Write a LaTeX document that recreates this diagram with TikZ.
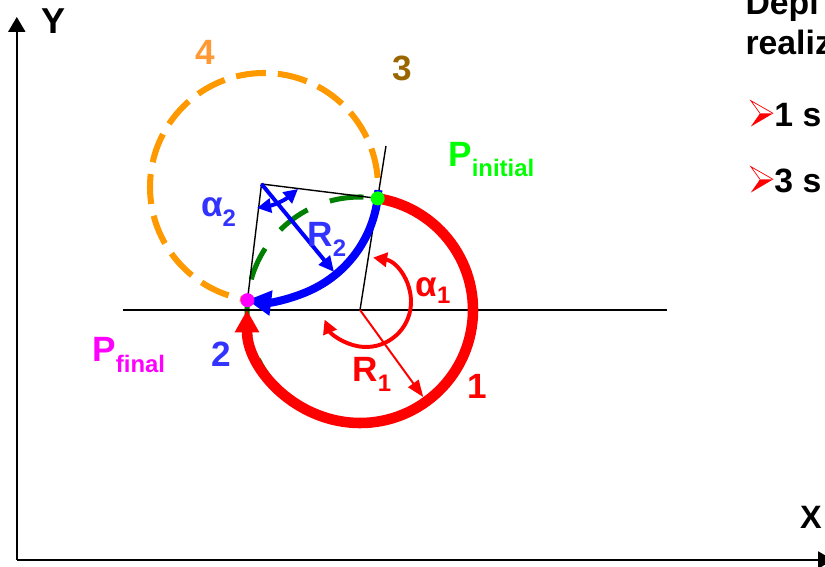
\documentclass[tikz,border=0pt]{standalone}
\usepackage{fontspec}
\setmainfont{Liberation Sans}
\usetikzlibrary{arrows.meta,calc}
\definecolor{PlanInk}{gray}{0}
\definecolor{PlanRed}{RGB}{255,0,0}
\definecolor{PlanBlue}{RGB}{0,0,255}
\definecolor{PlanBlueText}{RGB}{51,51,255}
\definecolor{PlanGreen}{RGB}{0,128,0}
\definecolor{PlanLime}{RGB}{0,255,0}
\definecolor{PlanOrange}{RGB}{255,153,0}
\definecolor{PlanOrangeText}{RGB}{255,153,51}
\definecolor{PlanBrown}{RGB}{153,102,0}
\definecolor{PlanMagenta}{RGB}{255,0,255}
\newcommand\planmain{\fontsize{25}{28}\selectfont\bfseries}
\newcommand\plansub{\fontsize{17}{19}\selectfont\bfseries}
\newcommand\plantext{\fontsize{24}{27}\selectfont\bfseries}
\newcommand\withsub[3][7pt]{#2\raisebox{-#1}{\plansub #3}}
\tikzset{
    plan/diagram/.style={
        font=\planmain,
        draw=PlanInk,
        text=PlanInk,
        line width=1pt,
        line cap=butt,
        every node/.style={inner sep=0pt, outer sep=0pt}
    },
    plan/axis/.style={
        draw=PlanInk, line width=1.4pt,
        -{Triangle[length=10.5pt, width=12pt]}
    },
    plan/guide/.style={draw=PlanInk, line width=1pt},
    plan/baseline/.style={draw=PlanInk, line width=1.4pt},
    plan/circle1/.style={
        draw=PlanGreen, line width=3.6pt,
        dash pattern=on 0.85cm off 0.6cm
    },
    plan/circle2/.style={
        draw=PlanOrange, line width=4.3pt,
        dash pattern=on 0.75cm off 0.3cm, dash phase=0.82cm
    },
    plan/move1/.style={
        draw=PlanRed, line width=7.5pt,
        -{Triangle[length=16pt, width=16.5pt]}
    },
    plan/move2/.style={
        draw=PlanBlue, line width=5.7pt,
        -{Triangle[length=17pt, width=17pt]}
    },
    plan/radius1/.style={
        draw=PlanRed, line width=1.4pt,
        -{Triangle[length=12pt, width=9pt]}
    },
    plan/radius2/.style={
        draw=PlanBlue, line width=2.8pt,
        -{Triangle[length=11pt, width=10pt]}
    },
    plan/angle1/.style={
        draw=PlanRed, line width=2.8pt,
        {Triangle[length=10pt, width=10pt]}-{Triangle[length=10pt, width=10pt]}
    },
    plan/angle2/.style={
        draw=PlanBlue, line width=2.8pt,
        {Triangle[length=10pt, width=10pt]}-{Triangle[length=10pt, width=10pt]}
    },
    plan/point/.style={circle, draw=none, minimum size=0.35cm},
    plan/label/.style={anchor=base west}
}
\begin{document}
\begin{tikzpicture}[plan/diagram]
    \useasboundingbox (0,0) rectangle (20.625,14.175);
    % centres of the two turns, start and end of the manoeuvre
    \coordinate (C1) at (9.0,6.425);
    \coordinate (C2) at (6.538,9.575);
    \coordinate (C4) at (6.6,9.5);
    \coordinate (Pi) at ($(C1)+(81:2.825)$);
    \coordinate (Pf) at ($(C1)+(175:2.825)$);
    \coordinate (O) at (0.42,0.175);
    % axes
    \draw[plan/axis] (O) -- (0.42,13.75);
    \draw[plan/axis] (O) -- (20.825,0.175);
    \node (ylabel) at (1.35,13.65) {\fontsize{25.6}{28}\selectfont\bfseries Y};
    \node (xlabel) at (20.275,1.25) {\fontsize{23}{26}\selectfont\bfseries X};
    % full circles of both radii
    \draw[plan/circle1] (C1) circle[radius=2.825];
    \draw[plan/circle2] (C4) circle[radius=2.85];
    % construction lines
    \draw[plan/baseline] (3.075,6.425) -- (16.675,6.425);
    \draw[plan/guide] (C1) -- ($(C1)!1.47!(Pi)$);
    \draw[plan/guide] (Pf) -- (C2) -- (Pi);
    % the two arcs actually driven
    \draw[plan/move1] (Pi) arc[start angle=81, end angle=-180, radius=2.825];
    \draw[plan/move2] ($(C2)+(-3:2.925)$)
        arc[start angle=-3, end angle=-97, radius=2.925];
    % radii and angles
    \coordinate (R1tip) at ($(C1)+(-54:2.69)$);
    \coordinate (R2tip) at ($(C2)+(-50.5:2.85)$);
    \draw[plan/radius1] (C1) -- (R1tip);
    \draw[plan/radius2] (C2) -- (R2tip);
    \coordinate (A1) at (9.15,6.625);
    \draw[plan/angle1] ($(A1)+(81:1.125)$)
        arc[start angle=81, end angle=-157, radius=1.125];
    \coordinate (a2s) at (6.425,8.975);
    \coordinate (a2e) at (7.45,9.45);
    \draw[plan/angle2] (a2s) to[bend right=15] (a2e);
    % start and end points
    \node[plan/point, fill=PlanLime] (Pinit) at (Pi) {};
    \node[plan/point, fill=PlanMagenta] (Pfin) at (Pf) {};
    % labels
    \node[text=PlanOrangeText] (lab4) at (5.1375,12.875) {4};
    \node[text=PlanBrown] (lab3) at (10.0625,12.4625) {3};
    \node[text=PlanRed] (lab1) at (11.9375,4.5125) {1};
    \node[text=PlanBlueText] (lab2) at (5.525,5.3125) {2};
    \node[plan/label, text=PlanLime] (labPi) at (11.21,10.0) {\withsub{P}{initial}};
    \node[plan/label, text=PlanMagenta] (labPf) at (2.3125,5.125) {\withsub[7.8pt]{P}{final}};
    \node[plan/label, text=PlanBlueText] (labA2) at (5.025,8.75) {\withsub{α}{2}};
    \node[plan/label, text=PlanBlueText] (labR2) at (7.6875,8.0) {\withsub{R}{2}};
    \node[plan/label, text=PlanRed] (labA1) at (10.39,6.75) {\withsub[4.5pt]{α}{1}};
    \node[plan/label, text=PlanRed] (labR1) at (8.81,4.625) {\withsub{R}{1}};
    % text on the right, cut by the page edge
    \node[plan/label, font=\plantext] (head1) at (18.64,13.8) {Depl};
    \node[plan/label, font=\plantext] (head2) at (18.64,12.8) {realiz};
    \fill[PlanRed] (19.0,11.34) -- (19.33,11.34) -- (18.77,11.01) -- cycle;
    \draw[PlanRed, line width=0.5pt] (19.0,11.34) -- (18.77,11.66) -- (19.33,11.34);
    \node[plan/label, font=\plantext] (item1) at (19.36,11.0) {1 s};
    \fill[PlanRed] (19.0,9.69) -- (19.33,9.69) -- (18.77,9.36) -- cycle;
    \draw[PlanRed, line width=0.5pt] (19.0,9.69) -- (18.77,10.01) -- (19.33,9.69);
    \node[plan/label, font=\plantext] (item3) at (19.36,9.35) {3 s};
\end{tikzpicture}
\end{document}
